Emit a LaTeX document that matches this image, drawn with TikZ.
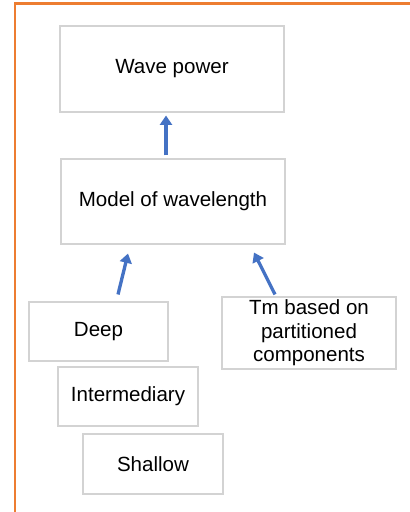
\documentclass[tikz,border=0pt]{standalone}
\usepackage{fontspec}
\setmainfont{Liberation Sans}
\usetikzlibrary{calc,arrows.meta}
\definecolor{frameorange}{HTML}{ED7D31}
\definecolor{arrblue}{HTML}{4472C4}
\definecolor{boxgray}{HTML}{D3D3D3}
\begin{document}
\begin{tikzpicture}[x=0.75pt,y=-0.75pt,
  box/.style={draw=boxgray, line width=0.8pt, inner sep=0pt, align=center,
    font=\fontsize{15.4}{17.6}\selectfont},
  arr/.style={draw=arrblue, line width=2.5pt, -{Triangle[length=7pt,width=9pt]}},
  frame/.style={draw=frameorange, line width=1.6pt}]
\useasboundingbox (0,0) rectangle (410,512);
\coordinate (fbot) at (15,512);
\coordinate (fcorner) at (15,3.5);
\coordinate (fright) at (410,3.5);
\draw[frame] (fbot) -- (fcorner) -- (fright);
\node[box, minimum width=224*0.75pt, minimum height=86*0.75pt] (wave) at (172,69) {Wave power};
\node[box, minimum width=224*0.75pt, minimum height=85*0.75pt] (model) at (173,201.5) {Model of wavelength};
\node[box, minimum width=139*0.75pt, minimum height=59*0.75pt] (deep) at (98.5,331.5) {Deep};
\node[box, minimum width=174*0.75pt, minimum height=72*0.75pt] (tm) at (309,333) {Tm based on\\partitioned\\components};
\node[box, minimum width=140*0.75pt, minimum height=59*0.75pt] (inter) at (128,396.5) {Intermediary};
\node[box, minimum width=140*0.75pt, minimum height=60*0.75pt] (shallow) at (153,464) {Shallow};
\draw[arr] ($(model.north)+(-7,-3)$) -- ($(wave.south)+(-6,3)$);
\draw[arr] ($(deep.north)+(19.5,-7)$) -- ($(model.south)+(-45,9)$);
\draw[arr] ($(tm.north)+(-34,-2)$) -- ($(model.south)+(81,8)$);
\end{tikzpicture}
\end{document}
